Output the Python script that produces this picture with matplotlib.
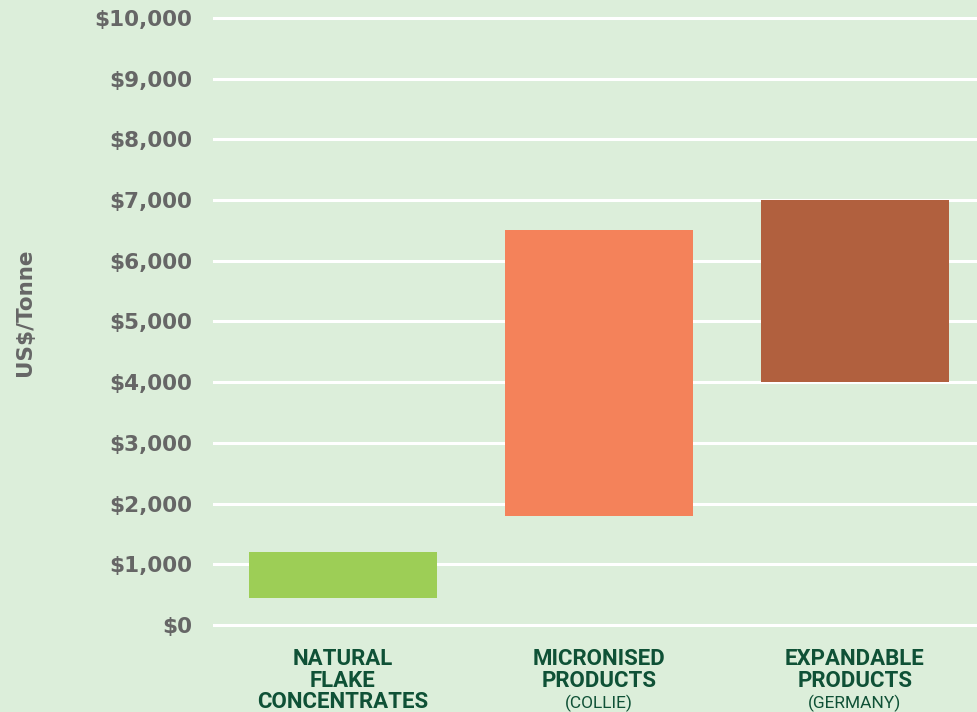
import matplotlib
matplotlib.use("Agg")
import matplotlib.pyplot as plt
import matplotlib.transforms as mtransforms

categories = ["NATURAL\nFLAKE\nCONCENTRATES", "MICRONISED\nPRODUCTS", "EXPANDABLE\nPRODUCTS"]
subtitles = ["", "(COLLIE)", "(GERMANY)"]
low = [450, 1800, 4000]
high = [1200, 6500, 7000]
colors = ["#9DCE56", "#F4825A", "#B1603E"]
yticks = list(range(0, 10001, 1000))
ytick_labels = ["${:,}".format(v) for v in yticks]

W, H = 978, 712
bg = "#DCEEDA"
fig = plt.figure(figsize=(W / 100, H / 100), dpi=100, facecolor=bg)

pad = 150
px_per_unit = 607 / 10000
top_px = 18 - pad * px_per_unit
bot_px = 625 + pad * px_per_unit
ax = fig.add_axes([213 / W, (H - bot_px) / H, (W - 213) / W, (bot_px - top_px) / H])
ax.set_facecolor(bg)
ax.set_ylim(-pad, 10000 + pad)
ax.set_xlim(-130 / 256, 2 + 123 / 256)

x = list(range(len(categories)))
heights = [h - l for h, l in zip(high, low)]
ax.bar(x, heights, bottom=low, width=188 / 256, color=colors, zorder=3)

ax.set_yticks(yticks)
ax.set_yticklabels(ytick_labels, fontsize=15.5, fontweight="bold", color="#666666")
ax.tick_params(axis="y", length=0, pad=15)
ax.set_xticks([])
ax.grid(axis="y", color="white", linewidth=2.2, zorder=0)
ax.set_axisbelow(True)
for s in ax.spines.values():
    s.set_visible(False)

fig.text(25 / W, (H - 312) / H, "US$/Tonne", rotation=90, ha="center", va="center",
         fontsize=15.5, fontweight="bold", color="#666666")

trans = mtransforms.blended_transform_factory(ax.transData, fig.transFigure)
dark = "#0F5136"
for i, (cat, sub) in enumerate(zip(categories, subtitles)):
    ax.text(i, (H - 648) / H, cat, transform=trans, ha="center", va="top",
            fontsize=16, fontweight="bold", color=dark, linespacing=0.98,
            family="Roboto", clip_on=False)
    if sub:
        ax.text(i, (H - 703) / H, sub, transform=trans, ha="center", va="center",
                fontsize=12.5, color=dark, family="Roboto", clip_on=False)

fig.savefig("out.png", dpi=100, facecolor=bg)
